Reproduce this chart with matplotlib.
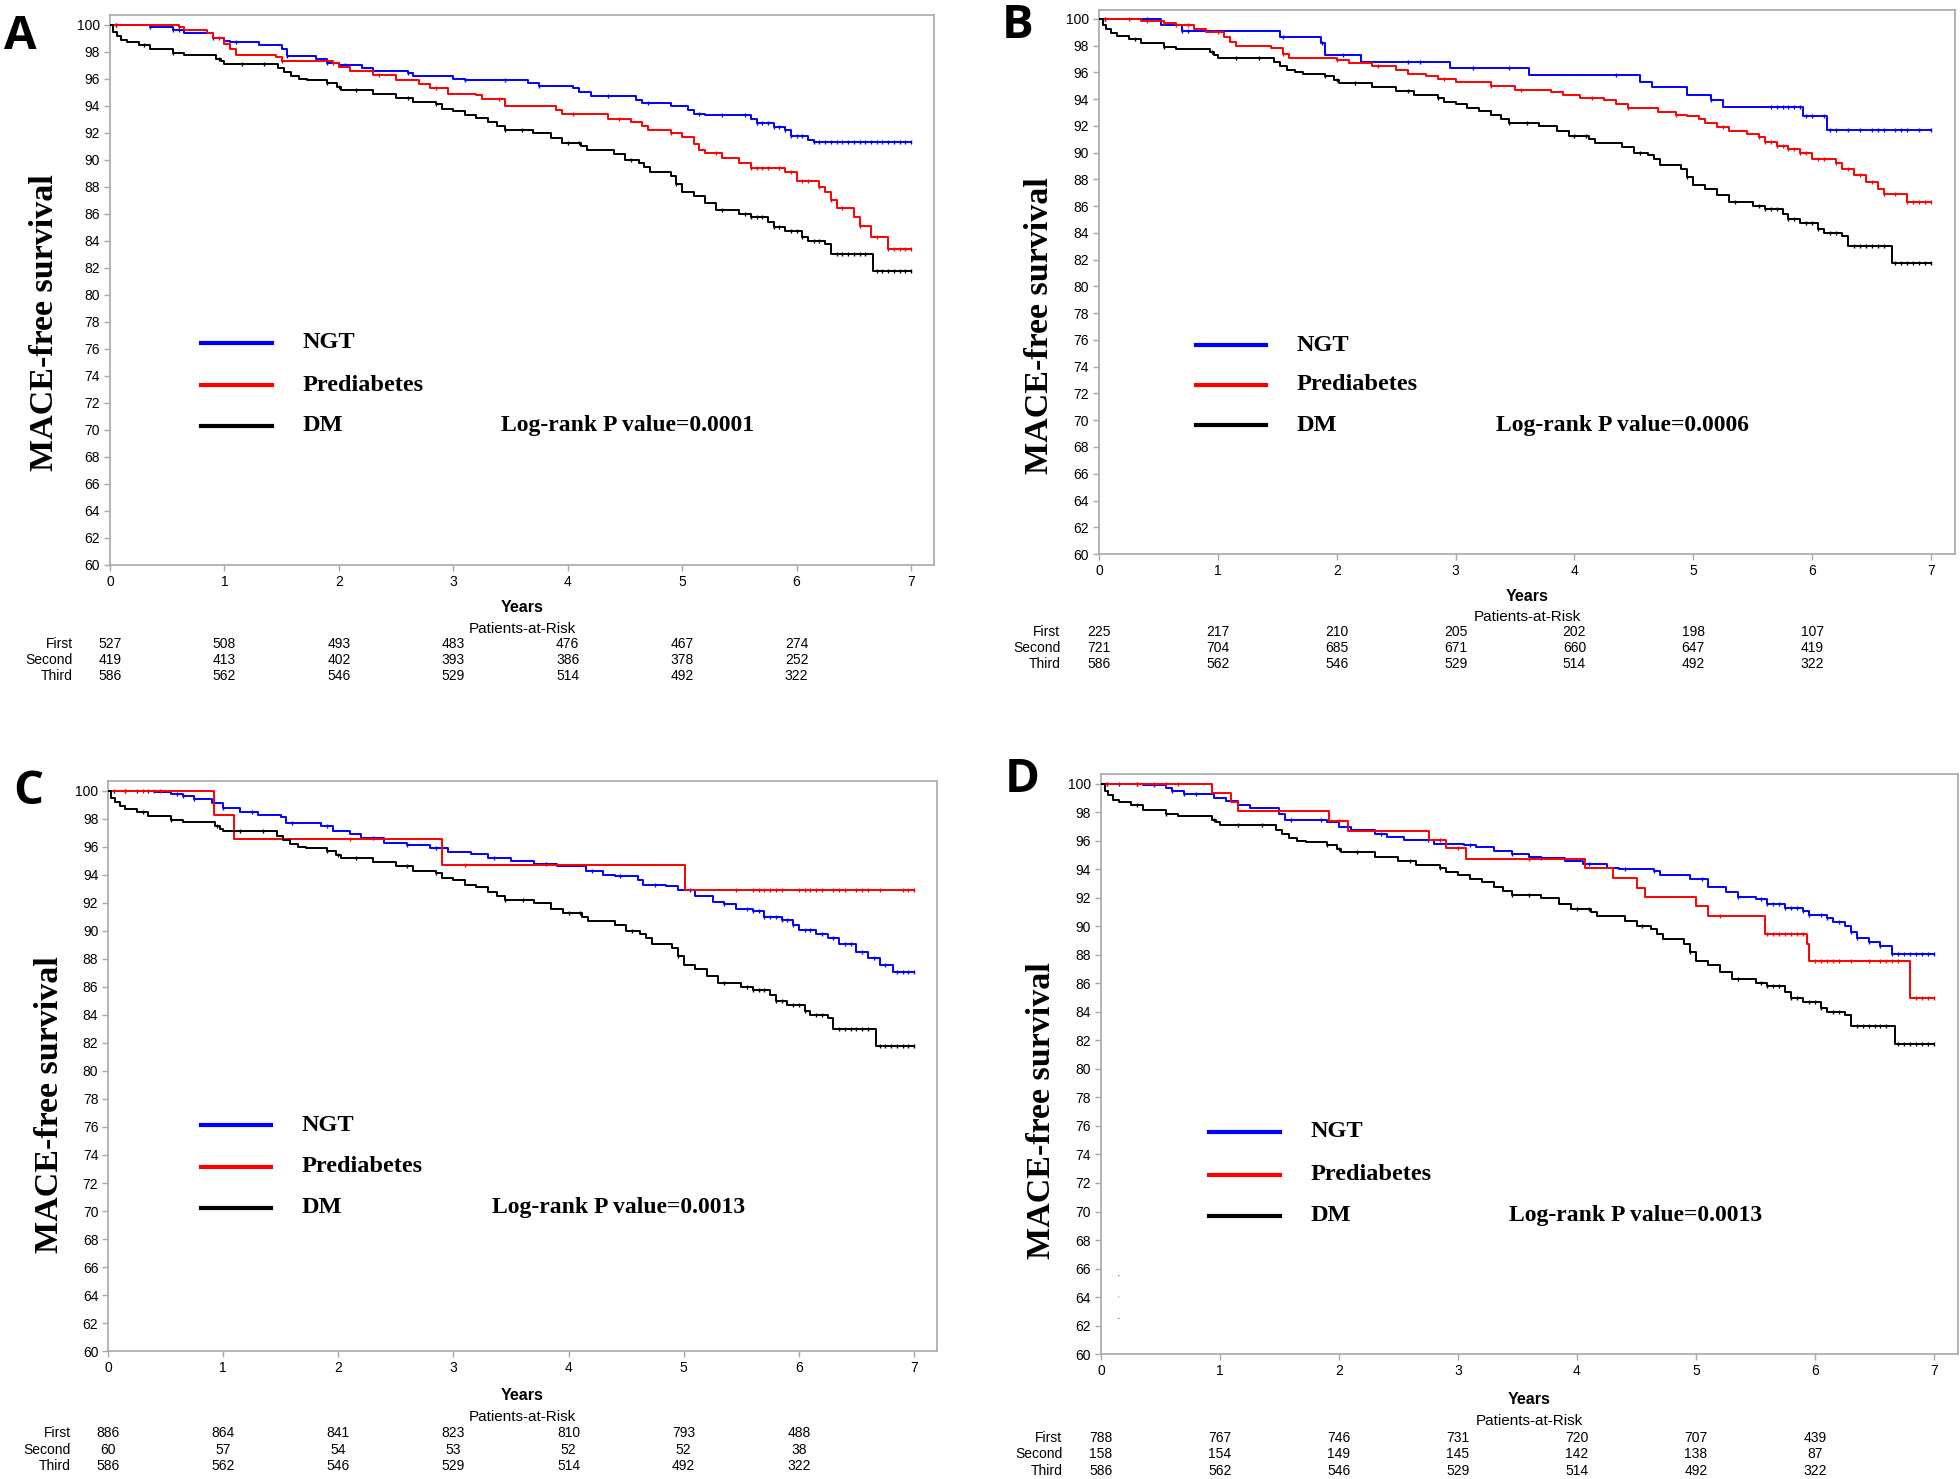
import numpy as np
import matplotlib
matplotlib.use("Agg")
import matplotlib.pyplot as plt
from matplotlib.transforms import blended_transform_factory

years = [0, 1, 2, 3, 4, 5, 6, 7]
yticks = list(range(60, 101, 2))
row_names = ["First", "Second", "Third"]
group_names = ["NGT", "Prediabetes", "DM"]

# DM curve (same in every panel)
dm_t = [0, 0.03, 0.06, 0.1, 0.15, 0.25, 0.35, 0.55, 0.65, 0.93, 0.97, 1.0, 1.47, 1.52, 1.58,
        1.65, 1.72, 1.9, 1.98, 2.02, 2.3, 2.5, 2.65, 2.85, 2.9, 3.0, 3.1, 3.2, 3.3, 3.38,
        3.45, 3.7, 3.85, 3.95, 4.12, 4.17, 4.4, 4.5, 4.62, 4.67, 4.72, 4.9, 4.95, 5.0, 5.1,
        5.2, 5.3, 5.5, 5.6, 5.75, 5.8, 5.9, 6.05, 6.1, 6.25, 6.3, 6.67, 7.0]
dm_s = [100, 99.5, 99.2, 98.9, 98.7, 98.5, 98.2, 97.9, 97.75, 97.5, 97.3, 97.1, 96.8, 96.5, 96.2,
        96.0, 95.9, 95.7, 95.4, 95.2, 94.9, 94.6, 94.3, 94.1, 93.8, 93.6, 93.3, 93.1, 92.8, 92.5,
        92.2, 92.0, 91.6, 91.25, 91.0, 90.7, 90.4, 90.0, 89.8, 89.5, 89.1, 88.8, 88.2, 87.6, 87.3,
        86.8, 86.3, 86.0, 85.8, 85.4, 85.0, 84.7, 84.3, 84.0, 83.8, 83.0, 81.75, 81.75]
dm_cens = [0.3, 0.55, 0.95, 1.15, 1.35, 1.9, 2.0, 2.15, 2.6, 2.85, 3.45, 3.6, 4.0, 4.1, 4.55,
           4.95, 5.35, 5.55, 5.6, 5.65, 5.7, 5.8, 5.85, 5.95, 6.0, 6.05, 6.15, 6.2, 6.35, 6.4,
           6.45, 6.5, 6.55, 6.6, 6.7, 6.75, 6.8, 6.85, 6.9, 6.95, 7.0]

# Panel A
ngt_a_t = [0, 0.35, 0.55, 0.65, 0.9, 1.0, 1.05, 1.3, 1.5, 1.55, 1.8, 1.9, 2.0, 2.2, 2.3,
           2.6, 2.65, 3.0, 3.1, 3.65, 3.75, 4.05, 4.1, 4.2, 4.6, 4.65, 4.9, 5.05, 5.1, 5.2,
           5.6, 5.65, 5.8, 5.9, 5.95, 6.1, 6.15, 7.0]
ngt_a_s = [100, 99.8, 99.6, 99.4, 99.0, 98.8, 98.7, 98.5, 98.2, 97.7, 97.5, 97.2, 97.0, 96.8, 96.6,
           96.4, 96.2, 96.0, 95.9, 95.7, 95.5, 95.3, 95.0, 94.7, 94.4, 94.2, 94.0, 93.7, 93.4, 93.3,
           93.0, 92.7, 92.4, 92.2, 91.8, 91.5, 91.35, 91.35]
ngt_a_cens = [0.05, 0.35, 0.55, 0.6, 0.9, 1.1, 1.55, 1.9, 2.05, 2.6, 3.1, 3.45, 3.75, 4.35, 4.7,
              5.15, 5.35, 5.55, 5.65, 5.7, 5.75, 5.8, 5.85, 5.9, 5.95, 6.0, 6.05, 6.15, 6.2, 6.25,
              6.3, 6.35, 6.4, 6.45, 6.5, 6.55, 6.6, 6.65, 6.7, 6.75, 6.8, 6.85, 6.9, 6.95, 7.0]
pre_a_t = [0, 0.6, 0.65, 0.85, 0.9, 1.0, 1.05, 1.1, 1.45, 1.5, 1.95, 2.0, 2.1, 2.3, 2.5,
           2.7, 2.8, 2.95, 3.2, 3.25, 3.45, 3.9, 3.95, 4.35, 4.55, 4.65, 4.7, 4.9, 5.0, 5.1,
           5.15, 5.2, 5.35, 5.5, 5.6, 5.9, 6.0, 6.2, 6.25, 6.3, 6.35, 6.5, 6.55, 6.65, 6.8, 7.0]
pre_a_s = [100, 99.8, 99.6, 99.4, 99.0, 98.6, 98.2, 97.8, 97.6, 97.3, 97.2, 96.9, 96.6, 96.3, 95.9,
           95.6, 95.3, 94.9, 94.8, 94.5, 94.0, 93.7, 93.4, 93.0, 92.8, 92.5, 92.2, 92.0, 91.7, 91.2,
           90.7, 90.5, 90.1, 89.8, 89.4, 89.1, 88.4, 88.0, 87.6, 87.0, 86.4, 85.8, 85.1, 84.3, 83.4, 83.4]
pre_a_cens = [0.05, 0.6, 0.95, 1.5, 1.95, 2.35, 2.85, 3.4, 4.05, 4.45, 4.9, 5.3, 5.6, 5.65, 5.7,
              5.75, 5.85, 5.95, 6.05, 6.1, 6.2, 6.3, 6.4, 6.55, 6.7, 6.8, 6.85, 6.9, 6.95, 7.0]

# Panel B
ngt_b_t = [0, 0.52, 0.7, 1.52, 1.87, 1.9, 2.2, 2.95, 3.62, 4.55, 4.65, 4.95, 5.15, 5.25, 5.92, 6.12, 7.0]
ngt_b_s = [100, 99.5, 99.1, 98.6, 98.2, 97.3, 96.8, 96.3, 95.8, 95.3, 94.9, 94.3, 93.9, 93.4, 92.7, 91.7, 91.7]
ngt_b_cens = [0.05, 0.4, 0.7, 0.75, 1.55, 1.88, 2.05, 2.6, 2.7, 3.15, 3.45, 4.35, 5.15, 5.65, 5.7,
              5.75, 5.8, 5.85, 5.9, 5.95, 6.0, 6.1, 6.15, 6.2, 6.3, 6.4, 6.5, 6.55, 6.6, 6.7,
              6.75, 6.8, 6.9, 7.0]
pre_b_t = [0, 0.35, 0.55, 0.65, 0.8, 0.9, 1.05, 1.1, 1.15, 1.45, 1.55, 1.6, 2.0, 2.1, 2.3,
           2.5, 2.6, 2.75, 2.85, 3.0, 3.3, 3.5, 3.8, 3.9, 4.05, 4.25, 4.35, 4.45, 4.7, 4.85,
           4.95, 5.05, 5.1, 5.2, 5.3, 5.45, 5.55, 5.6, 5.7, 5.8, 5.9, 6.0, 6.2, 6.25, 6.35,
           6.45, 6.55, 6.6, 6.8, 7.0]
pre_b_s = [100, 99.8, 99.7, 99.5, 99.2, 99.0, 98.6, 98.3, 98.0, 97.8, 97.4, 97.1, 96.9, 96.7, 96.5,
           96.2, 95.9, 95.7, 95.5, 95.3, 95.0, 94.7, 94.5, 94.3, 94.1, 93.9, 93.6, 93.3, 93.0, 92.8,
           92.7, 92.5, 92.2, 91.9, 91.6, 91.4, 91.2, 90.8, 90.5, 90.3, 90.0, 89.5, 89.2, 88.8, 88.3,
           87.8, 87.3, 86.9, 86.3, 86.3]
pre_b_cens = [0.05, 0.25, 0.4, 0.55, 0.65, 0.75, 1.0, 1.55, 2.0, 2.35, 2.9, 3.3, 3.55, 4.15, 4.45,
              4.85, 5.25, 5.55, 5.6, 5.65, 5.7, 5.75, 5.8, 5.85, 5.9, 5.95, 6.05, 6.1, 6.2, 6.3,
              6.4, 6.5, 6.6, 6.7, 6.8, 6.85, 6.9, 6.95, 7.0]

# Panel C
ngt_c_t = [0, 0.4, 0.55, 0.65, 0.75, 0.9, 1.0, 1.15, 1.3, 1.5, 1.55, 1.85, 1.95, 2.1, 2.2,
           2.4, 2.6, 2.8, 2.95, 3.15, 3.3, 3.5, 3.7, 3.9, 4.15, 4.3, 4.4, 4.6, 4.65, 4.85,
           4.95, 5.1, 5.25, 5.35, 5.45, 5.6, 5.7, 5.85, 5.95, 6.0, 6.15, 6.25, 6.35, 6.5, 6.6,
           6.7, 6.82, 7.0]
ngt_c_s = [100, 99.9, 99.8, 99.6, 99.4, 99.1, 98.8, 98.5, 98.3, 98.1, 97.7, 97.5, 97.1, 96.9, 96.6,
           96.3, 96.1, 95.9, 95.6, 95.5, 95.2, 95.0, 94.8, 94.6, 94.3, 94.0, 93.9, 93.6, 93.3, 93.2,
           92.9, 92.5, 92.1, 91.9, 91.6, 91.4, 91.0, 90.8, 90.4, 90.1, 89.8, 89.5, 89.1, 88.5, 88.1,
           87.6, 87.1, 87.1]
ngt_c_cens = [0.05, 0.15, 0.25, 0.35, 0.6, 0.65, 0.75, 1.0, 1.25, 1.6, 1.9, 2.3, 2.6, 2.85, 3.35,
              3.8, 4.2, 4.45, 4.75, 5.05, 5.35, 5.55, 5.6, 5.65, 5.7, 5.75, 5.8, 5.85, 5.9, 5.95,
              6.05, 6.1, 6.2, 6.3, 6.4, 6.45, 6.55, 6.65, 6.75, 6.85, 6.9, 6.95, 7.0]
pre_c_t = [0, 0.92, 1.09, 2.9, 5.01, 7.0]
pre_c_s = [100, 98.3, 96.55, 94.7, 92.9, 92.9]
pre_c_cens = [0.15, 0.3, 0.4, 0.45, 2.1, 3.1, 5.45, 5.6, 5.65, 5.7, 5.75, 5.8, 5.85, 6.0, 6.05,
              6.1, 6.15, 6.2, 6.3, 6.35, 6.4, 6.5, 6.55, 6.6, 6.7, 6.9, 6.95, 7.0]

# Panel D
ngt_d_t = [0, 0.35, 0.55, 0.6, 0.7, 0.95, 1.05, 1.15, 1.25, 1.5, 1.55, 1.9, 2.0, 2.1, 2.3,
           2.4, 2.55, 2.8, 3.05, 3.15, 3.3, 3.45, 3.6, 3.7, 3.9, 4.05, 4.25, 4.35, 4.65, 4.7,
           4.95, 5.1, 5.25, 5.35, 5.5, 5.6, 5.75, 5.9, 5.95, 6.1, 6.15, 6.25, 6.3, 6.35, 6.45,
           6.55, 6.65, 7.0]
ngt_d_s = [100, 99.9, 99.7, 99.5, 99.3, 99.0, 98.8, 98.5, 98.3, 97.9, 97.5, 97.3, 97.0, 96.8, 96.5,
           96.3, 96.1, 95.8, 95.7, 95.6, 95.3, 95.1, 94.9, 94.8, 94.6, 94.4, 94.1, 94.0, 93.9, 93.6,
           93.3, 92.8, 92.4, 92.1, 91.9, 91.6, 91.3, 91.1, 90.8, 90.6, 90.3, 90.0, 89.6, 89.2, 88.9,
           88.6, 88.1, 88.1]
ngt_d_cens = [0.05, 0.15, 0.3, 0.45, 0.6, 0.7, 0.8, 1.6, 1.85, 2.35, 2.75, 3.1, 3.45, 3.7, 4.1,
              4.4, 4.65, 5.05, 5.35, 5.55, 5.6, 5.65, 5.7, 5.75, 5.8, 5.85, 5.9, 5.95, 6.05, 6.1,
              6.2, 6.3, 6.35, 6.45, 6.55, 6.65, 6.7, 6.75, 6.8, 6.85, 6.9, 6.95, 7.0]
pre_d_t = [0, 0.93, 1.09, 1.15, 1.92, 2.08, 2.76, 2.9, 3.07, 4.07, 4.3, 4.5, 4.57, 5.0, 5.1,
           5.58, 5.93, 5.95, 6.8, 7.0]
pre_d_s = [100, 99.35, 98.7, 98.07, 97.4, 96.7, 96.05, 95.47, 94.73, 94.08, 93.4, 92.7, 92.1, 91.45, 90.7,
           89.5, 88.8, 87.6, 85.0, 85.0]
pre_d_cens = [0.05, 0.3, 0.45, 0.55, 0.65, 1.5, 2.0, 2.85, 3.0, 3.6, 5.2, 5.6, 5.65, 5.7, 5.75,
              5.8, 5.85, 5.9, 6.0, 6.05, 6.1, 6.15, 6.2, 6.3, 6.45, 6.55, 6.6, 6.65, 6.7, 6.85,
              6.9, 6.95, 7.0]
stray_x = [0.15, 0.15, 0.15]
stray_y = [65.5, 64.0, 62.5]

# patients at risk
risk_a = [[527, 508, 493, 483, 476, 467, 274], [419, 413, 402, 393, 386, 378, 252], [586, 562, 546, 529, 514, 492, 322]]
risk_b = [[225, 217, 210, 205, 202, 198, 107], [721, 704, 685, 671, 660, 647, 419], [586, 562, 546, 529, 514, 492, 322]]
risk_c = [[886, 864, 841, 823, 810, 793, 488], [60, 57, 54, 53, 52, 52, 38], [586, 562, 546, 529, 514, 492, 322]]
risk_d = [[788, 767, 746, 731, 720, 707, 439], [158, 154, 149, 145, 142, 138, 87], [586, 562, 546, 529, 514, 492, 322]]

pvals = ["0.0001", "0.0006", "0.0013", "0.0013"]

COLORS = ["#0000ff", "#ff0000", "#000000"]
SERIF = ["Liberation Serif", "DejaVu Serif"]
SANS = ["Liberation Sans", "DejaVu Sans"]


def step_value(t, s, x):
    i = np.searchsorted(t, x, side="right") - 1
    return np.asarray(s)[np.clip(i, 0, len(s) - 1)]


def draw_panel(fig, rect, ylim_top, letter, letter_xy, curves, risk, pval, lay):
    ax = fig.add_axes(rect)
    for (t, s, cens), c in zip(curves, COLORS):
        ax.plot(t, s, drawstyle="steps-post", color=c, lw=1.4, zorder=3)
        ax.plot(cens, step_value(t, s, cens), ls="none", marker="|", ms=3.5, mew=1.0, color=c, zorder=3)

    ax.set_xlim(0, 7.2)
    ax.set_ylim(60, ylim_top)
    ax.set_xticks(years)
    ax.set_yticks(yticks)
    for sp in ax.spines.values():
        sp.set_color("#a8a8a8")
        sp.set_linewidth(1.2)
    ax.tick_params(direction="out", length=4, width=1, color="#a8a8a8", labelsize=10, pad=3)
    for lab in ax.get_xticklabels() + ax.get_yticklabels():
        lab.set_family(SANS)

    ax.text(lay["ylab"][0], lay["ylab"][1], "MACE-free survival", transform=ax.transAxes,
            rotation=90, ha="center", va="center", fontsize=24.5, fontweight="bold", family=SERIF)

    x0, x1, xt, xp = lay["leg_x"]
    for y, c, name in zip(lay["leg_y"], COLORS, group_names):
        ax.plot([x0, x1], [y, y], color=c, lw=3, transform=ax.transAxes, clip_on=False)
        ax.text(xt, y, name, transform=ax.transAxes, ha="left", va="center",
                fontsize=17.5, fontweight="bold", family=SERIF)
    ax.text(xp, lay["leg_y"][2], "Log-rank P value=" + pval, transform=ax.transAxes,
            ha="left", va="center", fontsize=17, fontweight="bold", family=SERIF)

    ax.text(0.5, -0.078, "Years", transform=ax.transAxes, ha="center", va="center",
            fontsize=11.5, fontweight="bold", family=SANS)
    ax.text(0.5, -0.116, "Patients-at-Risk", transform=ax.transAxes, ha="center", va="center",
            fontsize=11, family=SANS)
    tr = blended_transform_factory(ax.transData, ax.transAxes)
    for row, name, y in zip(risk, row_names, [-0.144, -0.173, -0.202]):
        ax.text(-0.045, y, name, transform=ax.transAxes, ha="right", va="center", fontsize=10, family=SANS)
        for yr, n in zip(years, row):
            ax.text(yr, y, str(n), transform=tr, ha="center", va="center", fontsize=10, family=SANS)

    fig.text(letter_xy[0], letter_xy[1], letter, fontsize=34, fontweight="bold",
             family=["Open Sans", "DejaVu Sans"], ha="left", va="baseline")
    return ax


fig = plt.figure(figsize=(19.6, 14.79), dpi=100)

dm = (dm_t, dm_s, dm_cens)

draw_panel(fig, [0.0561, 0.6180, 0.4204, 0.3719], 100.73, "A", (0.002, 0.967),
           [(ngt_a_t, ngt_a_s, ngt_a_cens), (pre_a_t, pre_a_s, pre_a_cens), dm], risk_a, pvals[0],
           {"ylab": (-0.08, 0.44), "leg_x": (0.110, 0.197, 0.234, 0.4745), "leg_y": (0.404, 0.327, 0.253)})

draw_panel(fig, [0.5607, 0.6254, 0.4367, 0.3678], 100.65, "B", (0.511, 0.974),
           [(ngt_b_t, ngt_b_s, ngt_b_cens), (pre_b_t, pre_b_s, pre_b_cens), dm], risk_b, pvals[1],
           {"ylab": (-0.07, 0.42), "leg_x": (0.113, 0.195, 0.231, 0.464), "leg_y": (0.384, 0.311, 0.237)})

draw_panel(fig, [0.0551, 0.0865, 0.4230, 0.3854], 100.7, "C", (0.007, 0.4564),
           [(ngt_c_t, ngt_c_s, ngt_c_cens), (pre_c_t, pre_c_s, pre_c_cens), dm], risk_c, pvals[2],
           {"ylab": (-0.07, 0.433), "leg_x": (0.112, 0.197, 0.233, 0.463), "leg_y": (0.396, 0.323, 0.251)})

ax_d = draw_panel(fig, [0.5617, 0.0845, 0.4372, 0.3922], 100.7, "D", (0.5128, 0.4645),
                  [(ngt_d_t, ngt_d_s, ngt_d_cens), (pre_d_t, pre_d_s, pre_d_cens), dm], risk_d, pvals[3],
                  {"ylab": (-0.069, 0.419), "leg_x": (0.126, 0.209, 0.245, 0.476), "leg_y": (0.383, 0.309, 0.238)})
ax_d.scatter(stray_x, stray_y, s=0.6, c=["#0000ff", "#ff0000", "#000080"], lw=0, zorder=3)

fig.savefig("out.png", dpi=100)
